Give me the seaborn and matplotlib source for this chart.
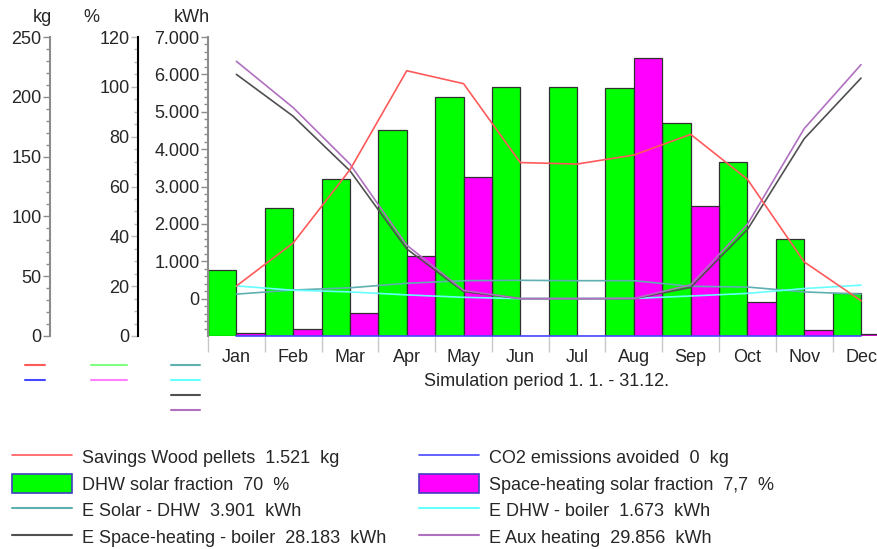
import numpy as np
import pandas as pd
import matplotlib
matplotlib.use("Agg")
import matplotlib.pyplot as plt
import seaborn as sns
from matplotlib.lines import Line2D
from matplotlib.patches import Patch
from matplotlib.ticker import FuncFormatter, MultipleLocator, FixedLocator

# Monthly data
months = ["Jan", "Feb", "Mar", "Apr", "May", "Jun", "Jul", "Aug", "Sep", "Oct", "Nov", "Dec"]
dhw_fraction = [26.5, 51.4, 63, 82.7, 96, 100, 100, 99.6, 85.5, 69.9, 39, 17.3]          # %
space_fraction = [1.2, 2.8, 9.2, 32, 64, 0, 0, 111.6, 52, 13.7, 2.4, 1.0]               # %
wood_savings = [41.8, 77.8, 139, 221.8, 211, 145, 143.8, 151.3, 168.6, 131, 61.9, 29.5]   # kg
co2_avoided = [0, 0, 0, 0, 0, 0, 0, 0, 0, 0, 0, 0]                                         # kg
e_solar_dhw = [120, 230, 290, 410, 480, 490, 480, 480, 330, 310, 180, 120]                 # kWh
e_dhw_boiler = [340, 225, 180, 100, 35, 0, 0, 5, 70, 140, 270, 360]                        # kWh
e_space_boiler = [6000, 4880, 3420, 1330, 190, 0, 0, 0, 300, 1850, 4280, 5900]            # kWh
e_aux = [6350, 5110, 3600, 1430, 220, 0, 0, 5, 370, 1990, 4550, 6260]                      # kWh

legend_labels = [
    "Savings Wood pellets  1.521  kg",
    "DHW solar fraction  70  %",
    "E Solar - DHW  3.901  kWh",
    "E Space-heating - boiler  28.183  kWh",
    "CO2 emissions avoided  0  kg",
    "Space-heating solar fraction  7,7  %",
    "E DHW - boiler  1.673  kWh",
    "E Aux heating  29.856  kWh",
]

c_red = "#ff5a5a"
c_blue = "#4848ff"
c_green = "#00ff00"
c_magenta = "#ff00ff"
c_teal = "#5fb0b0"
c_cyan = "#66ffff"
c_gray = "#505050"
c_purple = "#b070c0"

sns.set_style("white")
plt.rcParams["font.family"] = ["Liberation Sans", "DejaVu Sans"]
plt.rcParams["font.size"] = 13

W, H = 877, 549
PX = 72 / 100  # points per pixel at dpi 100
fig = plt.figure(figsize=(W / 100, H / 100), dpi=100)
ax = fig.add_axes([208 / W, (H - 336) / H, (W - 208) / W, (336 - 37) / H])

# bars (% scale)
bars = pd.DataFrame({
    "month": months * 2,
    "value": dhw_fraction + space_fraction,
    "series": ["DHW"] * 12 + ["Space"] * 12,
})
sns.barplot(data=bars, x="month", y="value", hue="series",
            palette={"DHW": c_green, "Space": c_magenta}, saturation=1,
            width=1.0, edgecolor="#303030", linewidth=0.9, legend=False, ax=ax)
ax.set_ylim(0, 120)
ax.set_xlim(-0.5, (W - 209) / 56.7 - 0.5)
ax.set_xlabel("")
ax.set_ylabel("")

ax_kwh = ax.twinx()
ax_kg = ax.twinx()
pos = np.arange(12)

sns.lineplot(x=pos, y=e_solar_dhw, color=c_teal, lw=1.2, ax=ax_kwh)
sns.lineplot(x=pos, y=e_dhw_boiler, color=c_cyan, lw=1.2, ax=ax_kwh)
sns.lineplot(x=pos, y=e_space_boiler, color=c_gray, lw=1.2, ax=ax_kwh)
sns.lineplot(x=pos, y=e_aux, color=c_purple, lw=1.2, ax=ax_kwh)
ax_kwh.set_ylim(-1000, 7000)

sns.lineplot(x=pos, y=wood_savings, color=c_red, lw=1.2, ax=ax_kg)
ln = ax_kg.plot(pos, co2_avoided, color=c_blue, lw=1.2)
ln[0].set_clip_on(False)
ax_kg.set_ylim(0, 250)

# axes styling
for a in (ax, ax_kwh, ax_kg):
    for s in ("top", "right", "bottom"):
        a.spines[s].set_visible(False)
    a.spines["left"].set_visible(True)
    a.yaxis.tick_left()
    a.set_xlabel("")
    a.set_ylabel("")
    a.tick_params(axis="y", which="major", direction="out", length=5, width=1,
                  left=True, labelsize=13, pad=1)
    a.tick_params(axis="y", which="minor", direction="out", length=3, width=1, left=True)

ax.spines["left"].set_position(("outward", 70 * PX))
ax_kg.spines["left"].set_position(("outward", 158 * PX))
ax.spines["left"].set_color("black")
ax.tick_params(axis="y", which="both", color="#bbbbbb")
for a in (ax_kwh, ax_kg):
    a.spines["left"].set_color("#8c8c8c")
    a.tick_params(axis="y", which="both", color="#8c8c8c")
for a in (ax, ax_kwh, ax_kg):
    a.spines["left"].set_linewidth(1.5)

ax.yaxis.set_major_locator(MultipleLocator(20))
ax.yaxis.set_minor_locator(MultipleLocator(5))
ax_kg.yaxis.set_major_locator(MultipleLocator(50))
ax_kg.yaxis.set_minor_locator(MultipleLocator(10))
ax_kwh.yaxis.set_major_locator(FixedLocator(range(0, 7001, 1000)))
ax_kwh.yaxis.set_minor_locator(FixedLocator(range(-800, 7001, 200)))
ax_kwh.yaxis.set_major_formatter(FuncFormatter(lambda v, p: f"{int(v):,}".replace(",", ".")))

# x axis: ticks at slot edges, labels at slot centres
ax.xaxis.set_major_locator(FixedLocator(pos - 0.5))
ax.xaxis.set_major_formatter(FuncFormatter(lambda v, p: ""))
ax.xaxis.set_minor_locator(FixedLocator(pos))
ax.set_xticklabels(months, minor=True)
ax.tick_params(axis="x", which="major", direction="out", length=16 * PX, width=1,
               color="#c8c8c8", bottom=True)
ax.tick_params(axis="x", which="minor", length=0, pad=9, labelsize=13, bottom=True)

# axis titles
fig.text(52 / W, 1 - 17 / H, "kg", ha="right", va="center", fontsize=13)
fig.text(91 / W, 1 - 17 / H, "%", ha="center", va="center", fontsize=13)
fig.text(210 / W, 1 - 17 / H, "kWh", ha="right", va="center", fontsize=13)
fig.text(547 / W, 1 - 381 / H, "Simulation period 1. 1. - 31.12.", ha="center",
         va="center", fontsize=13)

# small colour keys below each axis
keys = [
    (25, 45, 365, c_red), (25, 45, 380, c_blue),
    (91, 127, 365, "#80ff80"), (91, 127, 380, "#ff80ff"),
    (171, 200, 365, c_teal), (171, 200, 380, c_cyan),
    (171, 200, 395, c_gray), (171, 200, 410, c_purple),
]
for x0, x1, y, c in keys:
    fig.add_artist(Line2D([x0 / W, x1 / W], [1 - y / H, 1 - y / H], color=c, lw=1.5,
                          transform=fig.transFigure))

# bottom legend
handles = [
    Line2D([], [], color=c_red, lw=1.2),
    Patch(facecolor=c_green, edgecolor="#4040c0", linewidth=1.2),
    Line2D([], [], color=c_teal, lw=1.5),
    Line2D([], [], color=c_gray, lw=1.5),
    Line2D([], [], color=c_blue, lw=1.2),
    Patch(facecolor=c_magenta, edgecolor="#4040c0", linewidth=1.2),
    Line2D([], [], color=c_cyan, lw=1.5),
    Line2D([], [], color=c_purple, lw=1.5),
]
fig.legend(handles, legend_labels, loc="upper left", bbox_to_anchor=(12 / W, 1 - 447 / H),
           ncol=2, frameon=False, fontsize=13, borderpad=0, borderaxespad=0,
           handlelength=3.3, handleheight=1.3, handletextpad=0.55,
           labelspacing=0.38, columnspacing=1.85)

fig.savefig("out.png", dpi=100)
